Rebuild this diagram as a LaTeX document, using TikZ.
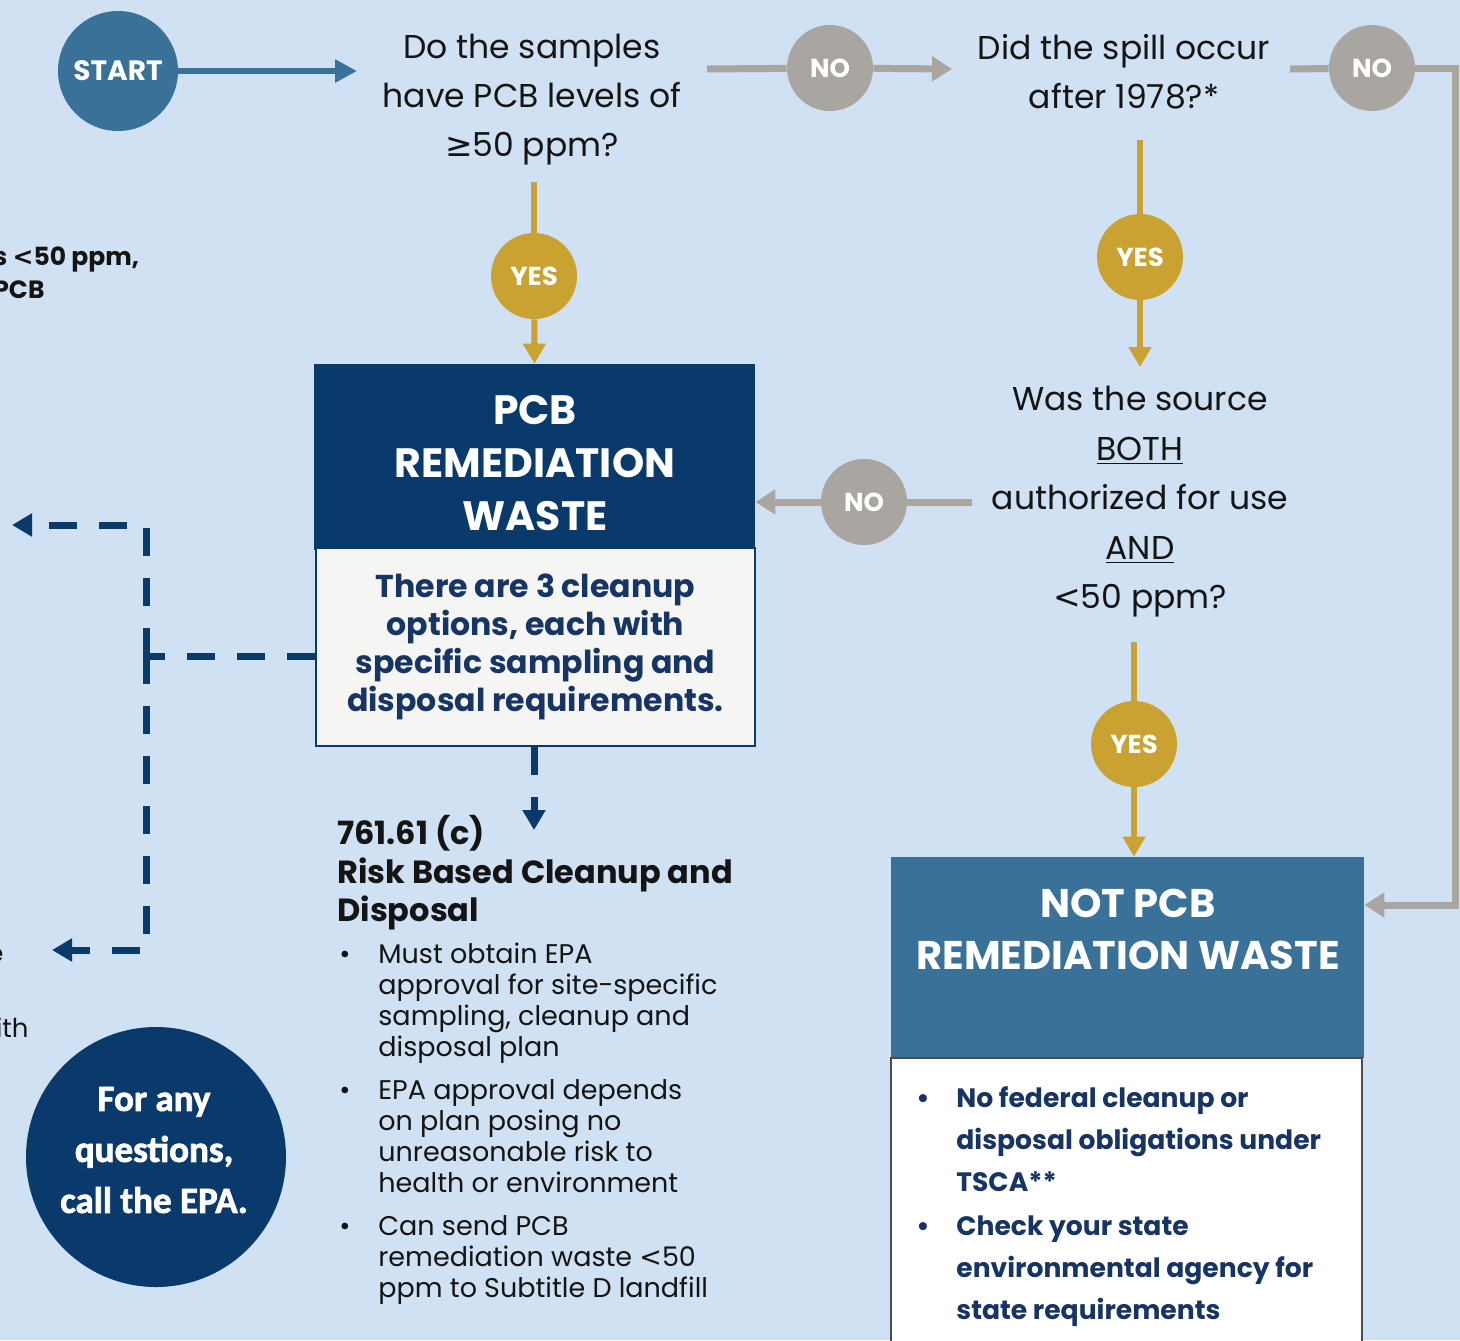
\documentclass[tikz,border=0pt]{standalone}
\usepackage{fontspec}
\setmainfont{Poppins}
\newfontfamily\symf{DejaVu Sans}
\newfontfamily\calib[FakeBold=2]{Carlito}
\usetikzlibrary{arrows.meta,positioning}
\definecolor{bgblue}{RGB}{207,225,242}
\definecolor{navy}{RGB}{10,58,107}
\definecolor{steel}{RGB}{58,113,153}
\definecolor{gold}{RGB}{201,162,50}
\definecolor{stone}{RGB}{169,166,161}
\definecolor{paper}{RGB}{245,245,244}
\definecolor{ink}{RGB}{20,20,20}
\definecolor{navyink}{RGB}{22,52,100}
\newcommand{\fs}[2]{\fontsize{#1}{#2}\selectfont}
\newcommand{\ltsign}{{\symf <}}

\begin{document}
\begin{tikzpicture}[x=0.5pt, y=-0.5pt,
  dot/.style={circle, inner sep=0pt, minimum size=43pt, font=\bfseries\fs{13}{15}, text=white},
  nodot/.style={dot, fill=stone},
  yesdot/.style={dot, fill=gold},
  question/.style={align=center, text=ink, font=\fs{16.5}{24.5}},
  hdr/.style={rectangle, inner sep=0pt, text=white, align=center},
  gline/.style={draw=stone, line width=3.5pt},
  garr/.style={gline, -{Triangle[width=12pt,length=10pt]}},
  yline/.style={draw=gold, line width=3pt},
  yarr/.style={yline, -{Triangle[width=11pt,length=10pt]}},
  barr/.style={draw=steel, line width=3pt, -{Triangle[width=11pt,length=11pt]}},
  dsh/.style={draw=navy, line width=3.5pt, dash pattern=on 14pt off 11pt},
  darr/.style={dsh, -{Triangle[width=11pt,length=10pt]}}
]
\fill[bgblue] (0,0) rectangle (1460,1340);
\useasboundingbox (0,0) rectangle (1460,1340);

% cut-off texts at the left edge
\node[anchor=west, align=left, text=ink, inner sep=0pt, font=\bfseries\fs{12.5}{16.5}] (lefttop) at (-7,273) {s \ltsign50 ppm,\\PCB};
\node[anchor=east, inner sep=0pt, text=ink, font=\fs{13}{15}] (leftmid) at (4,955) {e};
\node[anchor=east, inner sep=0pt, text=ink, font=\fs{13}{15}] (leftlow) at (29,1028) {ith};

% start and questions
\node[circle, fill=steel, minimum size=60pt, inner sep=0pt, text=white, font=\bfseries\fs{14}{16}] (start) at (118,71) {START};
\node[question] (q1) at (532,100) {Do the samples\\have PCB levels of\\{\symf ≥}50 ppm?};
\node[question] (q2) at (1124,72) {Did the spill occur\\after 1978?*};
\node[question, font=\fs{16.5}{24.75}] (q3) at (1140,502) {Was the source\\\underline{BOTH}\\authorized for use\\\underline{AND}\\\ltsign50 ppm?};

\node[nodot] (no1) at (830,68) {NO};
\node[nodot] (no2) at (1372,68) {NO};
\node[nodot] (no3) at (864,502) {NO};
\node[yesdot] (yes1) at (534,276) {YES};
\node[yesdot] (yes2) at (1140,257) {YES};
\node[yesdot] (yes3) at (1134,744) {YES};

% result boxes
\node[hdr, fill=navy, minimum width=220.5pt, minimum height=93pt] (pcbhdr) at (534.5,457) {};
\node[hdr, font=\bfseries\fs{20.5}{26.5}] (pcbtitle) at (535,463) {PCB\\REMEDIATION\\WASTE};
\node[rectangle, fill=paper, draw=navy, line width=1pt, minimum width=219.5pt, minimum height=99pt, align=center, text=navyink, font=\bfseries\fs{15.8}{19}] (pcbbody) at (535.5,647) {There are 3 cleanup\\options, each with\\specific sampling and\\disposal requirements.};

\node[hdr, fill=steel, minimum width=236.5pt, minimum height=100.5pt] (nothdr) at (1127.5,957.5) {};
\node[hdr, font=\bfseries\fs{20}{26}] (nottitle) at (1128,929) {NOT PCB\\REMEDIATION WASTE};
\node[rectangle, fill=white, draw=black!70, line width=0.8pt, minimum width=235.5pt, minimum height=151pt] (notbody) at (1126.5,1209) {};
\node[anchor=north west, inner sep=0pt, text=navyink, font=\bfseries\fs{13.3}{21}] (notlist) at (916,1078) {%
\begin{tabular}{@{}p{20pt}@{}l@{}}
\textbullet & No federal cleanup or\\
 & disposal obligations under\\
 & TSCA**\\[1pt]
\textbullet & Check your state\\
 & environmental agency for\\
 & state requirements
\end{tabular}};

% option 761.61 (c)
\node[anchor=north west, inner sep=0pt, align=left, text=ink, font=\bfseries\fs{16}{19.25}] (rbhead) at (337,815) {761.61 (c)\\Risk Based Cleanup and\\Disposal};
\node[anchor=north west, inner sep=0pt, text=ink, font=\fs{13.5}{15.5}] (rblist) at (339,941) {%
\begin{tabular}{@{}p{19.5pt}@{}l@{}}
\textbullet & Must obtain EPA\\
 & approval for site-specific\\
 & sampling, cleanup and\\
 & disposal plan\\[6pt]
\textbullet & EPA approval depends\\
 & on plan posing no\\
 & unreasonable risk to\\
 & health or environment\\[6pt]
\textbullet & Can send PCB\\
 & remediation waste \ltsign50\\
 & ppm to Subtitle D landfill
\end{tabular}};

\node[circle, fill=navy, minimum size=130pt, inner sep=0pt] (epa) at (156,1157) {};
\node[align=center, text=white, font=\calib\bfseries\fs{18.5}{25.5}] (epatext) at (154,1150) {For any\\questions,\\call the EPA.};

% connector ends
\coordinate (q1in) at (357,71);
\coordinate (q1out) at (707,69);
\coordinate (q1low) at (534,182);
\coordinate (q2in) at (952,69);
\coordinate (q2out) at (1290,69);
\coordinate (q2low) at (1140,140);
\coordinate (q3low) at (1134,642);
\coordinate (q3left) at (972,502);
\coordinate (rc) at (1455,68);
\coordinate (rb) at (1455,905);
\coordinate (jn) at (146,656);
\coordinate (jtop) at (146,525);
\coordinate (jbot) at (146,950);
\coordinate (outtop) at (12,525);
\coordinate (outbot) at (52,950);
\coordinate (rbin) at (534,830);

\draw[barr] (start) -- (q1in);
\draw[gline] (q1out) -- (no1);
\draw[garr] (no1) -- (q2in);
\draw[gline] (q2out) -- (no2);
\draw[garr] (no2) -- (rc) -- (rb) -- (nothdr.east |- rb);
\draw[yline] (q1low) -- (yes1);
\draw[yarr] (yes1) -- (pcbhdr.north);
\draw[yline] (q2low) -- (yes2);
\draw[yarr] (yes2) -- (1140,367);
\draw[gline] (q3left) -- (no3);
\draw[garr] (no3) -- (pcbhdr.east |- no3);
\draw[yline] (q3low) -- (yes3);
\draw[yarr] (yes3) -- (nothdr.north -| yes3);
\draw[dsh] (pcbbody.west |- jn) -- (jn);
\draw[darr] (jn) -- (jtop) -- (outtop);
\draw[darr] (jn) -- (jbot) -- (outbot);
\draw[darr] (pcbbody.south -| rbin) -- (rbin);
\end{tikzpicture}
\end{document}
